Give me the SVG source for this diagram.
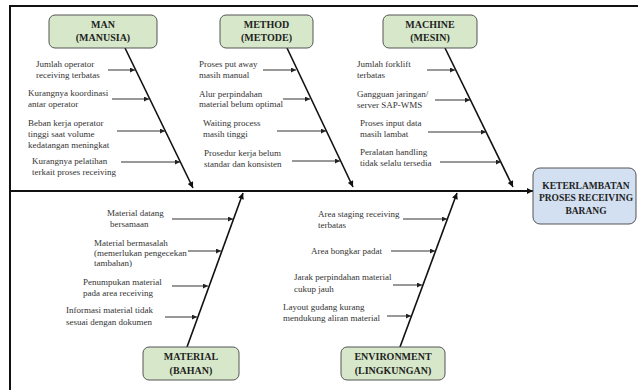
<svg xmlns="http://www.w3.org/2000/svg" width="638" height="390" viewBox="0 0 638 390">
<defs>
<marker id="ah" viewBox="0 0 10 10" refX="10" refY="5" markerWidth="7" markerHeight="6" markerUnits="userSpaceOnUse" orient="auto"><path d="M0,0 L10,5 L0,10 z" fill="#111"/></marker>
<marker id="ahs" viewBox="0 0 10 10" refX="10" refY="5" markerWidth="6" markerHeight="5" markerUnits="userSpaceOnUse" orient="auto"><path d="M0,0 L10,5 L0,10 z" fill="#222"/></marker>
<style>
.cat rect{fill:#d6e8c9;stroke:#555;stroke-width:1}
.eff rect{fill:#d2e0f1;stroke:#555;stroke-width:1}
.ttl{font-family:"Liberation Serif",serif;font-weight:bold;font-size:10px;fill:#222;text-anchor:middle}
.lbl{font-family:"Liberation Serif",serif;font-size:9px;fill:#333}
.bone{stroke:#111;stroke-width:1.6;fill:none;marker-end:url(#ah)}
.sub{stroke:#333;stroke-width:1;fill:none;marker-end:url(#ahs)}
</style>
</defs>
<rect width="638" height="390" fill="#fff"/>
<path d="M10,390 L10,6 L638,6" fill="none" stroke="#111" stroke-width="2"/>

<g id="connectors">
<line class="bone" x1="10" y1="191" x2="533" y2="191" style="stroke-width:2"/>
<line class="bone" x1="125" y1="48" x2="193" y2="188"/>
<line class="bone" x1="287" y1="48" x2="353" y2="187"/>
<line class="bone" x1="445" y1="48" x2="513" y2="187"/>
<line class="bone" x1="187" y1="347" x2="243" y2="193"/>
<line class="bone" x1="400" y1="347" x2="457" y2="193"/>

<line class="sub" x1="108" y1="70" x2="135" y2="70"/>
<line class="sub" x1="112" y1="99" x2="149" y2="99"/>
<line class="sub" x1="117" y1="131" x2="165" y2="131"/>
<line class="sub" x1="121" y1="162" x2="180" y2="162"/>

<line class="sub" x1="263" y1="70" x2="296" y2="70"/>
<line class="sub" x1="283" y1="99" x2="310" y2="99"/>
<line class="sub" x1="277" y1="131" x2="326" y2="131"/>
<line class="sub" x1="292" y1="161" x2="340" y2="161"/>

<line class="sub" x1="427" y1="70" x2="455" y2="70"/>
<line class="sub" x1="435" y1="100" x2="470" y2="100"/>
<line class="sub" x1="428" y1="132" x2="486" y2="132"/>
<line class="sub" x1="440" y1="162" x2="501" y2="162"/>

<line class="sub" x1="172" y1="219" x2="233" y2="219"/>
<line class="sub" x1="188" y1="251" x2="221" y2="251"/>
<line class="sub" x1="172" y1="286" x2="208" y2="286"/>
<line class="sub" x1="165" y1="317" x2="197" y2="317"/>

<line class="sub" x1="403" y1="219" x2="447" y2="219"/>
<line class="sub" x1="391" y1="251" x2="435" y2="251"/>
<line class="sub" x1="393" y1="285" x2="422" y2="285"/>
<line class="sub" x1="387" y1="316" x2="411" y2="316"/>
</g>

<g id="man" class="cat">
<rect x="49" y="15" width="108" height="33" rx="6"/>
<text class="ttl" x="103" y="28">MAN</text>
<text class="ttl" x="103" y="41">(MANUSIA)</text>
</g>
<g id="method" class="cat">
<rect x="220" y="15" width="93" height="33" rx="6"/>
<text class="ttl" x="266.5" y="28">METHOD</text>
<text class="ttl" x="266.5" y="41">(METODE)</text>
</g>
<g id="machine" class="cat">
<rect x="383" y="15" width="94" height="33" rx="6"/>
<text class="ttl" x="430" y="28">MACHINE</text>
<text class="ttl" x="430" y="41">(MESIN)</text>
</g>
<g id="material" class="cat">
<rect x="143" y="347" width="96" height="33" rx="6"/>
<text class="ttl" x="191" y="360">MATERIAL</text>
<text class="ttl" x="191" y="374">(BAHAN)</text>
</g>
<g id="environment" class="cat">
<rect x="341" y="347" width="104" height="33" rx="6"/>
<text class="ttl" x="393" y="360">ENVIRONMENT</text>
<text class="ttl" x="393" y="374">(LINGKUNGAN)</text>
</g>
<g id="effect" class="eff">
<rect x="533" y="168" width="103" height="56" rx="7"/>
<text class="ttl" x="586" y="189" style="font-size:9.5px">KETERLAMBATAN</text>
<text class="ttl" x="586" y="201" style="font-size:9.5px">PROSES RECEIVING</text>
<text class="ttl" x="586" y="214" style="font-size:9.5px">BARANG</text>
</g>

<g id="man-causes" class="lbl">
<text x="36" y="67">Jumlah operator</text>
<text x="36" y="78">receiving terbatas</text>
<text x="28" y="96">Kurangnya koordinasi</text>
<text x="28" y="107">antar operator</text>
<text x="28" y="126">Beban kerja operator</text>
<text x="28" y="137">tinggi saat volume</text>
<text x="28" y="148">kedatangan meningkat</text>
<text x="32" y="164">Kurangnya pelatihan</text>
<text x="32" y="175">terkait proses receiving</text>
</g>
<g id="method-causes" class="lbl">
<text x="199" y="67">Proses put away</text>
<text x="199" y="78">masih manual</text>
<text x="199" y="97">Alur perpindahan</text>
<text x="199" y="107">material belum optimal</text>
<text x="203" y="126">Waiting process</text>
<text x="203" y="137">masih tinggi</text>
<text x="204" y="156">Prosedur kerja belum</text>
<text x="204" y="167">standar dan konsisten</text>
</g>
<g id="machine-causes" class="lbl">
<text x="357" y="67">Jumlah forklift</text>
<text x="357" y="78">terbatas</text>
<text x="357" y="97">Gangguan jaringan/</text>
<text x="357" y="108">server SAP-WMS</text>
<text x="360" y="126">Proses input data</text>
<text x="360" y="137">masih lambat</text>
<text x="360" y="155">Peralatan handling</text>
<text x="360" y="166">tidak selalu tersedia</text>
</g>
<g id="material-causes" class="lbl">
<text x="107" y="216">Material datang</text>
<text x="110" y="227">bersamaan</text>
<text x="94" y="246">Material bermasalah</text>
<text x="94" y="256">(memerlukan pengecekan</text>
<text x="94" y="266">tambahan)</text>
<text x="83" y="285">Penumpukan material</text>
<text x="83" y="296">pada area receiving</text>
<text x="66" y="313">Informasi material tidak</text>
<text x="66" y="325">sesuai dengan dokumen</text>
</g>
<g id="environment-causes" class="lbl">
<text x="318" y="217">Area staging receiving</text>
<text x="318" y="228">terbatas</text>
<text x="311" y="254">Area bongkar padat</text>
<text x="294" y="280">Jarak perpindahan material</text>
<text x="294" y="292">cukup jauh</text>
<text x="283" y="310">Layout gudang kurang</text>
<text x="283" y="321">mendukung aliran material</text>
</g>
</svg>
